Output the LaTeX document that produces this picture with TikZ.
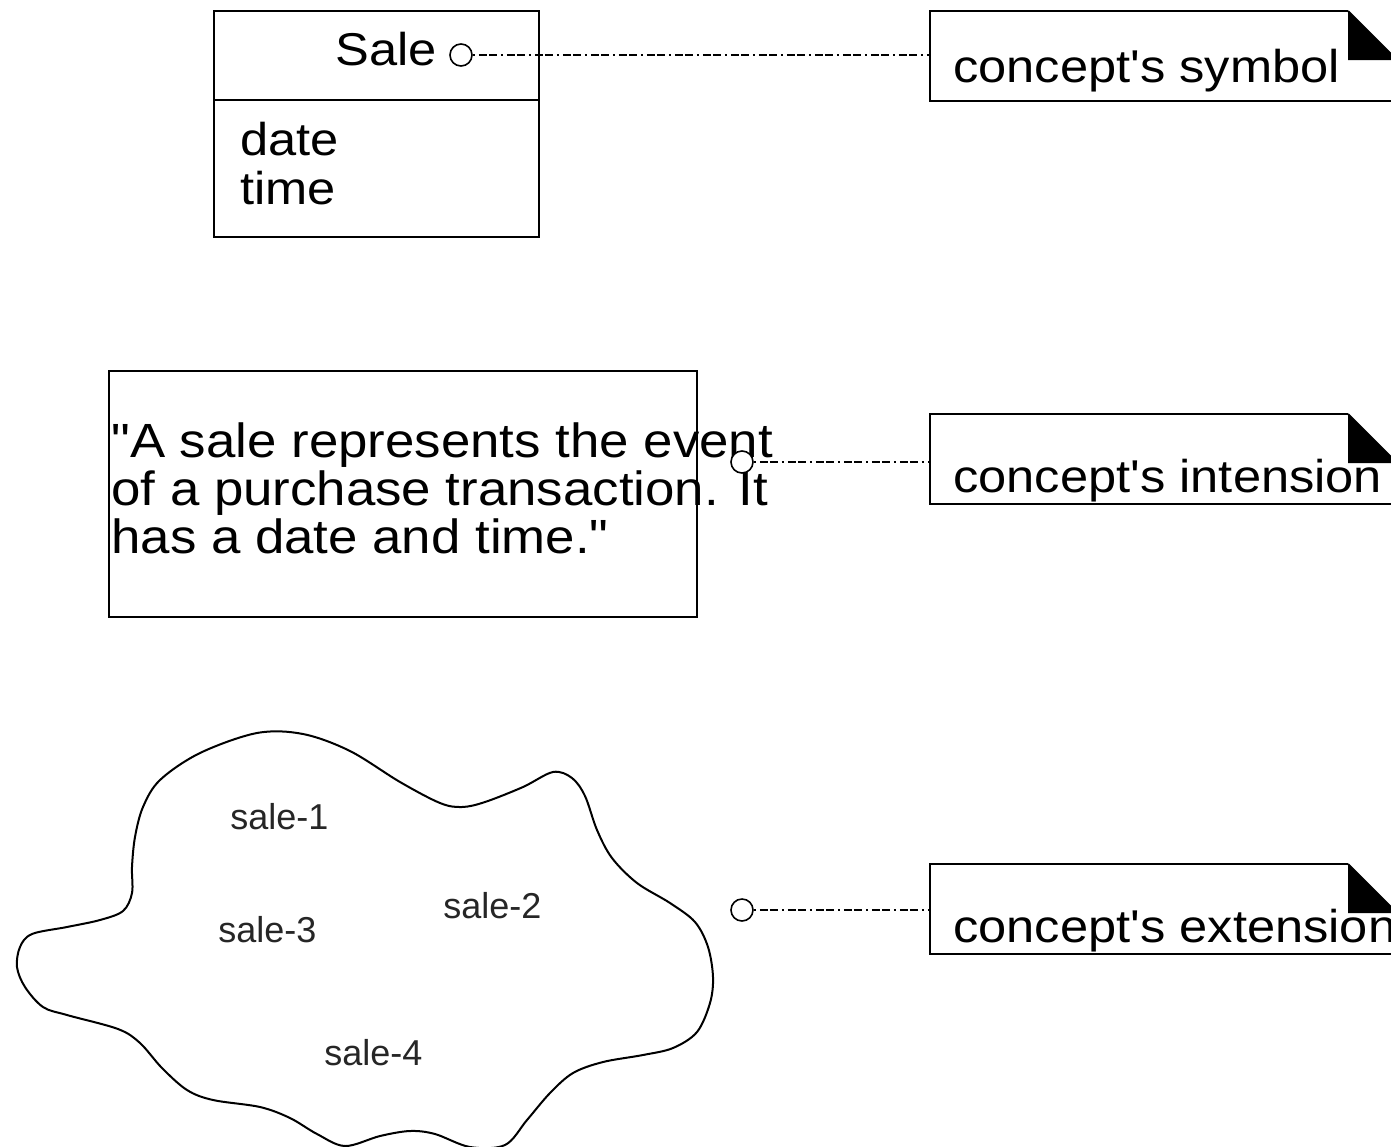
\documentclass[tikz,border=0pt]{standalone}
\usepackage{fontspec}
\setmainfont{Liberation Sans}[FakeStretch=1.1,Ligatures=TeXOff]
\newfontfamily\smallf{Liberation Sans}[Ligatures=TeXOff]
\tikzset{
  box/.style={draw, rectangle, line width=1pt, inner sep=0pt},
  txt/.style={inner sep=0pt, anchor=base west, font=\fontsize{23pt}{24pt}\selectfont},
  itxt/.style={inner sep=0pt, anchor=base west, font=\fontsize{24pt}{24pt}\selectfont},
  stxt/.style={inner sep=0pt, anchor=base west, font=\smallf\fontsize{18pt}{20pt}\selectfont, text=black!85},
  pin/.style={draw, circle, fill=white, line width=0.8pt, minimum size=11pt, inner sep=0pt},
  dotlink/.style={line width=0.7pt, dash pattern=on 1pt off 2pt on 4pt off 1pt on 4pt off 2pt},
  noteline/.style={line width=1pt},
}
\begin{document}
\begin{tikzpicture}[x=0.5pt,y=-0.5pt]
\clip (0,0) rectangle (1391,1146);
\fill[white] (0,0) rectangle (1391,1146);

% concept's symbol box
\node[box, minimum width=162.5pt, minimum height=113pt] (salebox) at (376.5,124) {};
\draw[line width=1pt] (salebox.west |- 0,100) -- (salebox.east |- 0,100);
\node[txt, anchor=base east] (salename) at (437,65) {Sale};
\node[txt] (date) at (240,155) {date};
\node[txt] (time) at (240,204) {time};

% intension box
\node[box, minimum width=294pt, minimum height=123pt] (intbox) at (403,494) {};
\node[itxt] (i1) at (111,457) {"A sale represents the event};
\node[itxt] (i2) at (111,505) {of a purchase transaction. It};
\node[itxt] (i3) at (111,553) {has a date and time."};

% extension cloud
\draw[line width=1pt] plot[smooth cycle, tension=0.55] coordinates {
 (257,733) (303,734) (350,751) (400,782) (440,803) (462,807) (485,802) (523,787)
 (553,772) (572,778) (585,796) (597,830) (612,858) (637,883) (670,903) (695,922)
 (708,947) (713,977) (710,1003) (697,1032) (673,1048) (643,1055) (603,1062)
 (573,1073) (550,1093) (527,1120) (505,1145) (470,1147) (435,1134) (410,1131)
 (380,1136) (345,1146) (317,1134) (290,1118) (260,1107) (213,1100) (187,1090)
 (162,1068) (140,1043) (118,1029) (67,1015) (43,1007) (25,987) (17,967) (20,947)
 (32,934) (67,927) (100,920) (123,911) (132,893) (132,867) (135,837) (143,807)
 (160,780) (200,753)};
\node[stxt] (s1) at (230,829) {sale-1};
\node[stxt] (s2) at (443,918) {sale-2};
\node[stxt] (s3) at (218,942) {sale-3};
\node[stxt] (s4) at (324,1065) {sale-4};

% notes
\foreach \t/\nm in {11/1, 414/2, 864/3} {
  \draw[noteline] (1348,\t) -- (930,\t) -- (930,\t+90) -- (1400,\t+90);
  \draw[noteline] (1348,\t) -- (1400,\t+52);
  \fill (1348,\t) -- (1348,\t+49) -- (1397,\t+49) -- cycle;
  \coordinate (n\nm) at (930,\t+44);
}
\node[txt] (t1) at (953,82) {concept's symbol};
\node[txt] (t2) at (953,492) {concept's intension};
\node[txt] (t3) at (953,942) {concept's extension};

% pins and dotted links
\node[pin] (c1) at (461,55) {};
\node[pin] (c2) at (742,462) {};
\node[pin] (c3) at (742,910) {};
\draw[dotlink] (c1) -- (c1 -| n1);
\draw[dotlink] (c2) -- (c2 -| n2);
\draw[dotlink] (c3) -- (c3 -| n3);
\end{tikzpicture}
\end{document}
